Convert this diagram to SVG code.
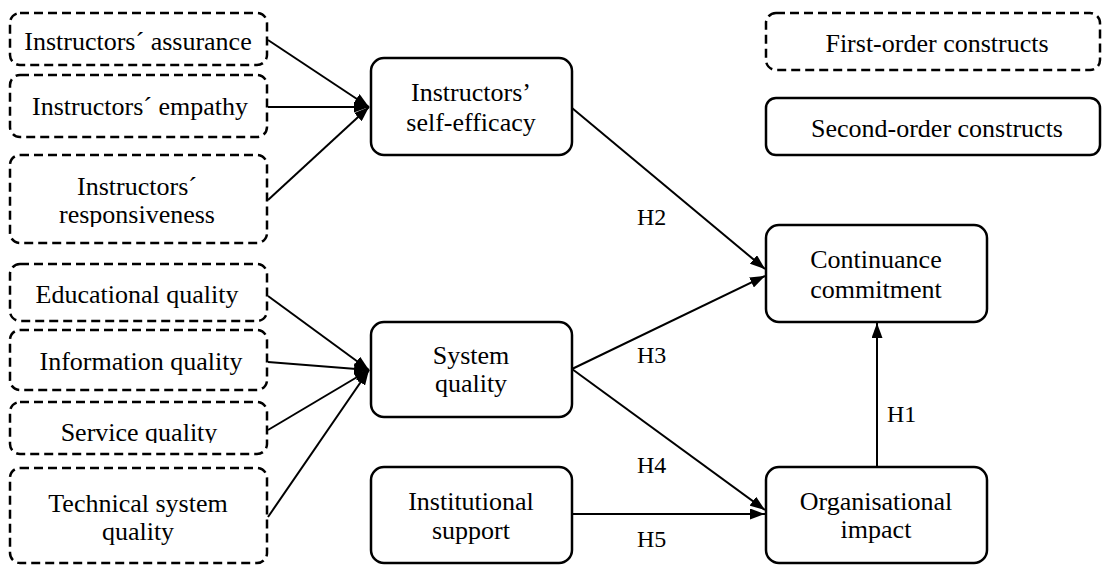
<svg xmlns="http://www.w3.org/2000/svg" width="1105" height="565" viewBox="0 0 1105 565">
<style>
.dash{fill:#fff;stroke:#000;stroke-width:2.5;stroke-dasharray:9 5}
.solid{fill:#fff;stroke:#000;stroke-width:2.5}
.t{font-family:"Liberation Serif","Times New Roman",serif;font-size:26px;fill:#000;text-anchor:middle}
.h{font-family:"Liberation Serif","Times New Roman",serif;font-size:24px;fill:#000}
.c{stroke:#000;stroke-width:2;fill:none;marker-end:url(#ah)}
</style>
<defs>
<marker id="ah" markerUnits="userSpaceOnUse" markerWidth="15" markerHeight="11" refX="15" refY="5.5" orient="auto">
<path d="M0,0 L15,5.5 L0,11 z" fill="#000"/>
</marker>
<clipPath id="clipResp"><rect x="0" y="150" width="280" height="77"/></clipPath>
<clipPath id="clipServ"><rect x="0" y="400" width="280" height="43"/></clipPath>
</defs>
<rect width="1105" height="565" fill="#fff"/>

<g id="connectors">
<path class="c" d="M268,40 L369,107"/>
<path class="c" d="M268,107 L369,107"/>
<path class="c" d="M268,200 L369,107"/>
<path class="c" d="M268,296 L369,370"/>
<path class="c" d="M268,362 L369,370"/>
<path class="c" d="M268,430 L369,370"/>
<path class="c" d="M268,517 L369,370"/>
<path class="c" d="M572,108 L765,269"/>
<path class="c" d="M572,369 L765,276"/>
<path class="c" d="M572,369 L765,510"/>
<path class="c" d="M572,514 L765,514"/>
<path class="c" d="M877,467 L877,323"/>
<text class="h" x="637" y="225">H2</text>
<text class="h" x="637" y="363">H3</text>
<text class="h" x="637" y="473">H4</text>
<text class="h" x="637" y="547">H5</text>
<text class="h" x="887" y="422">H1</text>
</g>

<g id="assurance">
<rect class="dash" x="10" y="13" width="257" height="52" rx="10"/>
<text class="t" x="138" y="50">Instructors´ assurance</text>
</g>
<g id="empathy">
<rect class="dash" x="10" y="75" width="257" height="62" rx="10"/>
<text class="t" x="140" y="115">Instructors´ empathy</text>
</g>
<g id="responsiveness">
<rect class="dash" x="10" y="155" width="257" height="88" rx="10"/>
<g clip-path="url(#clipResp)">
<text class="t" x="137" y="195">Instructors´</text>
<text class="t" x="137" y="223">responsiveness</text>
</g>
</g>
<g id="educational">
<rect class="dash" x="10" y="264" width="257" height="57" rx="10"/>
<text class="t" x="137" y="303">Educational quality</text>
</g>
<g id="information">
<rect class="dash" x="10" y="330" width="257" height="60" rx="10"/>
<text class="t" x="141" y="370">Information quality</text>
</g>
<g id="service">
<rect class="dash" x="10" y="402" width="257" height="52" rx="10"/>
<g clip-path="url(#clipServ)">
<text class="t" x="139" y="441">Service quality</text>
</g>
</g>
<g id="technical">
<rect class="dash" x="10" y="468" width="257" height="95" rx="10"/>
<text class="t" x="138" y="512">Technical system</text>
<text class="t" x="138" y="540">quality</text>
</g>

<g id="selfefficacy">
<rect class="solid" x="371" y="58" width="201" height="97" rx="13"/>
<text class="t" x="471" y="101">Instructors’</text>
<text class="t" x="471" y="131">self-efficacy</text>
</g>
<g id="systemquality">
<rect class="solid" x="371" y="322" width="201" height="95" rx="13"/>
<text class="t" x="471" y="364">System</text>
<text class="t" x="471" y="392">quality</text>
</g>
<g id="institutional">
<rect class="solid" x="371" y="467" width="201" height="96" rx="13"/>
<text class="t" x="471" y="510">Institutional</text>
<text class="t" x="471" y="539">support</text>
</g>
<g id="continuance">
<rect class="solid" x="766" y="225" width="221" height="97" rx="13"/>
<text class="t" x="876" y="268">Continuance</text>
<text class="t" x="876" y="298">commitment</text>
</g>
<g id="organisational">
<rect class="solid" x="766" y="467" width="221" height="96" rx="13"/>
<text class="t" x="876" y="510">Organisational</text>
<text class="t" x="876" y="538">impact</text>
</g>

<g id="legend-first">
<rect class="dash" x="766" y="13" width="334" height="57" rx="10"/>
<text class="t" x="937" y="52">First-order constructs</text>
</g>
<g id="legend-second">
<rect class="solid" x="766" y="98" width="334" height="57" rx="10"/>
<text class="t" x="937" y="137">Second-order constructs</text>
</g>
</svg>
